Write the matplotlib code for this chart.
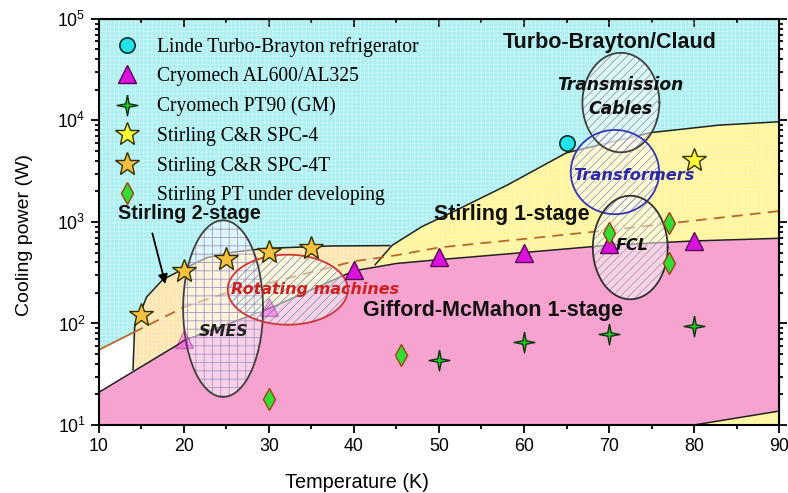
import matplotlib
import numpy as np

matplotlib.use("Agg")
import matplotlib.pyplot as plt
from matplotlib.ticker import FixedLocator, LogLocator, NullFormatter

# ---- data -----------------------------------------------------------------
# Gifford-McMahon 1-stage region (top edge, bottom edge)
gm_T = [10, 19.3, 20, 30, 40, 45, 50, 60, 70, 80, 90]
gm_top = [21, 62, 68, 140, 330, 390, 425, 500, 590, 650, 690]
gm_bot_T = [90, 80, 10]
gm_bot = [13.7, 10, 10]

# Stirling 1-stage upper edge
s1_T = [42.5, 44.5, 48, 52, 58, 65, 75, 83, 90]
s1_top = [380, 590, 900, 1300, 2300, 4800, 7600, 9000, 9700]

# Stirling 2-stage outer edge
s2_T = [14, 14.2, 15.6, 17.5, 19.8, 22.7, 25.8, 29.8, 37.5, 44.2]
s2_top = [35, 92, 182, 270, 340, 445, 505, 550, 580, 585]

# brown trend line (solid up to 14 K, dashed after)
trend_T = [10, 14, 20, 25, 30, 35, 40, 45, 50, 60, 70, 80, 90]
trend_P = [55, 81, 145, 200, 250, 320, 410, 470, 560, 680, 830, 1030, 1280]

# products
linde_T = [65]
linde_P = [6000]
al_T = np.array([20, 30, 40, 50, 60, 70, 80])
al_P = np.array([70, 145, 335, 450, 500, 600, 650])
pt90_T = [50, 60, 70, 80]
pt90_P = [44, 65, 78, 95]
spc4_T = [80]
spc4_P = [4100]
spc4t_T = [15, 20, 25, 30, 35]
spc4t_P = [120, 325, 435, 505, 560]
stpt_T = [30, 45.5, 70, 77, 77]
stpt_P = [18, 49, 780, 980, 395]

# application ellipses: centre T, centre P, half width (K), half height (decades)
apps = ["SMES", "Rotating machines", "Transmission\nCables", "Transformers", "FCL"]
app_cT = [24.6, 32.2, 71.4, 70.7, 72.5]
app_cP = [140, 215, 15000, 3100, 560]
app_aT = [4.7, 7.06, 4.53, 5.2, 4.4]
app_bD = [0.87, 0.345, 0.49, 0.415, 0.51]

# ---- style ------------------------------------------------------------------
plt.rcParams.update({
    "font.family": ["Liberation Sans", "DejaVu Sans"],
    "mathtext.fontset": "custom",
    "mathtext.rm": "Liberation Sans",
    "hatch.linewidth": 0.6,
})

CYAN = "#abeff0"
YELLOW = "#fff59a"
BEIGE = "#fae6ae"
PINK = "#f7a3cf"
BROWN = "#b8682a"

fig = plt.figure(figsize=(7.88, 4.93), dpi=100)
ax = fig.add_axes([0.1256, 0.138, 0.863, 0.8236])
ax.set_yscale("log")
ax.set_xlim(10, 90)
ax.set_ylim(10, 1e5)

# background graph-paper look
ax.set_facecolor(CYAN)
ax.fill([10, 90, 90, 10], [10, 10, 1e5, 1e5], facecolor="none",
        edgecolor=(1, 1, 1, 0.4), hatch="++++", lw=0, zorder=0.5)

# Stirling 2-stage (beige)
bx = list(s2_T) + [s2_T[-1], s2_T[0]]
by = list(s2_top) + [10, 10]
ax.fill(bx, by, facecolor=BEIGE, lw=0, zorder=1)
ax.fill(bx, by, facecolor="none", edgecolor=(1, 1, 1, 0.3), hatch="++++", lw=0, zorder=1.1)
ax.plot(s2_T, s2_top, color="#222222", lw=1.1, zorder=2.5)

# Stirling 1-stage (yellow)
yx = list(s1_T) + [90, s1_T[0]]
yy = list(s1_top) + [10, 10]
ax.fill(yx, yy, facecolor=YELLOW, lw=0, zorder=1.2)
ax.fill(yx, yy, facecolor="none", edgecolor=(1, 1, 1, 0.3), hatch="++++", lw=0, zorder=1.3)
ax.plot(s1_T, s1_top, color="#222222", lw=1.1, zorder=2.5)

# white gap left of the 2-stage region
tT = np.array(trend_T)
tP = np.array(trend_P)
ax.fill_between(tT[tT <= 14], 10, tP[tT <= 14], facecolor="white", lw=0, zorder=1.4)

# Gifford-McMahon 1-stage (pink)
px = list(gm_T) + list(gm_bot_T)
py = list(gm_top) + list(gm_bot)
ax.fill(px, py, facecolor=PINK, lw=0, zorder=2)
ax.plot(gm_T, gm_top, color="#222222", lw=1.1, zorder=2.5)
ax.plot(gm_bot_T[:2], gm_bot[:2], color="#222222", lw=1.1, zorder=2.5)

# trend line
ax.plot(tT[tT <= 14], tP[tT <= 14], color=BROWN, lw=1.3, zorder=2.6)
ax.plot(tT[tT >= 14], tP[tT >= 14], color=BROWN, lw=1.3, ls=(0, (6, 4)), zorder=2.6)

# application ellipses
t = np.linspace(0, 2 * np.pi, 240)
edge_cols = ["#404040", "#d03535", "#404040", "#3535b5", "#303030"]
hatch_cols = ["#a898c8", "#7aa0b0", "#9a9aa8", "#9a9ac0", "#a0a0a8"]
hatches = ["++", "////", "////", "////", "////"]
for i in range(len(apps)):
    ex = app_cT[i] + app_aT[i] * np.cos(t)
    ey = 10 ** (np.log10(app_cP[i]) + app_bD[i] * np.sin(t))
    ax.fill(ex, ey, facecolor=(1, 1, 1, 0.5), lw=0, zorder=3)
    ax.fill(ex, ey, facecolor="none", edgecolor=hatch_cols[i], hatch=hatches[i],
            lw=0, zorder=3.1)
    ax.plot(ex, ey, color=edge_cols[i], lw=1.3, zorder=3.2)

# markers
four_star = [(0, 1), (0.16, 0.16), (1, 0), (0.16, -0.16), (0, -1),
             (-0.16, -0.16), (-1, 0), (-0.16, 0.16), (0, 1)]
ax.plot(linde_T, linde_P, "o", ms=11, mfc="#22e3ea", mec="#003030", mew=1.2,
        ls="none", zorder=5, label="Linde Turbo-Brayton refrigerator")
full = al_T > 30
ax.plot(al_T[full], al_P[full], "^", ms=13, mfc="#dd11dd", mec="#550055", mew=1.0,
        ls="none", zorder=5, label="Cryomech AL600/AL325")
ax.plot(al_T[~full], al_P[~full], "^", ms=13, mfc="#dd11dd", mec="#550055", mew=1.0,
        ls="none", zorder=5, alpha=0.3)
ax.plot(pt90_T, pt90_P, marker=four_star, ms=15, mfc="#22cc22", mec="#103010",
        mew=1.0, ls="none", zorder=5, label="Cryomech PT90 (GM)")
ax.plot(spc4_T, spc4_P, "*", ms=18, mfc="#ffff33", mec="#303000", mew=1.0,
        ls="none", zorder=5, label="Stirling C&R SPC-4")
ax.plot(spc4t_T, spc4t_P, "*", ms=18, mfc="#f5c13e", mec="#303000", mew=1.0,
        ls="none", zorder=5, label="Stirling C&R SPC-4T")
ax.plot(stpt_T, stpt_P, "d", ms=11, mfc="#33dd33", mec="#a04010", mew=1.0,
        ls="none", zorder=5, label="Stirling PT under developing")

leg = ax.legend(loc="upper left", bbox_to_anchor=(0.0, 0.99), frameon=False,
                prop={"family": "Liberation Serif", "size": 14.1},
                handlelength=1.5, handletextpad=0.75, labelspacing=0.54,
                borderaxespad=0.3, numpoints=1)
leg.set_zorder(7)

# region / application labels
bold = dict(fontweight="bold", color="#111111", zorder=6)
ax.text(70.1, 59000, "Turbo-Brayton/Claud", ha="center", va="center", fontsize=15.5, **bold)
ax.text(58.6, 1180, "Stirling 1-stage", ha="center", va="center", fontsize=15.5, **bold)
ax.text(12.2, 1200, "Stirling 2-stage", ha="left", va="center", fontsize=14.2, **bold)
ax.text(56.4, 133, "Gifford-McMahon 1-stage", ha="center", va="center", fontsize=15.5, **bold)

ital = dict(fontweight="bold", style="italic", family="DejaVu Sans",
            ha="center", va="center", zorder=6)
ax.text(24.7, 83, "SMES", color="#222222", fontsize=11.5, **ital)
ax.text(35.4, 218, "Rotating machines", color="#cc2222", fontsize=11.5, **ital)
ax.text(71.3, 17000, "Transmission\nCables", color="#111111", fontsize=12.3,
        linespacing=1.45, **ital)
ax.text(72.9, 2900, "Transformers", color="#2a2aa8", fontsize=11.7, **ital)
ax.text(72.7, 590, "FCL", color="#111111", fontsize=11.5, **ital)

ax.annotate("", xy=(17.9, 230), xytext=(16.2, 820),
            arrowprops=dict(arrowstyle="-|>", color="black", lw=1.3,
                            mutation_scale=14), zorder=6)

# axes, ticks
ax.set_xlabel("Temperature (K)", fontsize=14.3)
ax.xaxis.set_label_coords(0.379, -0.118)
ax.set_ylabel("Cooling power (W)", fontsize=14.0)
ax.yaxis.set_label_coords(-0.097, 0.468)
ax.xaxis.set_major_locator(FixedLocator(np.arange(10, 91, 10)))
ax.xaxis.set_minor_locator(FixedLocator(np.arange(15, 90, 10)))
ax.yaxis.set_minor_locator(LogLocator(base=10, subs=np.arange(2, 10), numticks=20))
ax.yaxis.set_minor_formatter(NullFormatter())
ax.set_yticks([1e1, 1e2, 1e3, 1e4, 1e5])
ax.set_yticklabels([r"$\mathregular{10^{%d}}$" % k for k in range(1, 6)])
ax.tick_params(which="both", direction="out", labelsize=12.8, width=1.3)
ax.tick_params(which="major", length=6)
ax.tick_params(which="minor", length=3)
for sp in ax.spines.values():
    sp.set_linewidth(1.5)
    sp.set_zorder(8)

top = ax.secondary_xaxis("top")
top.xaxis.set_major_locator(FixedLocator(np.arange(10, 91, 10)))
top.xaxis.set_minor_locator(FixedLocator(np.arange(15, 90, 10)))
top.tick_params(which="both", direction="in", labeltop=False, width=1.3)
top.tick_params(which="major", length=6)
top.tick_params(which="minor", length=3)
right = ax.secondary_yaxis("right")
right.tick_params(which="both", direction="out", labelright=False, width=1.3)
right.tick_params(which="major", length=6)
right.tick_params(which="minor", length=3)
right.yaxis.set_minor_formatter(NullFormatter())

fig.savefig("out.png", dpi=100)
